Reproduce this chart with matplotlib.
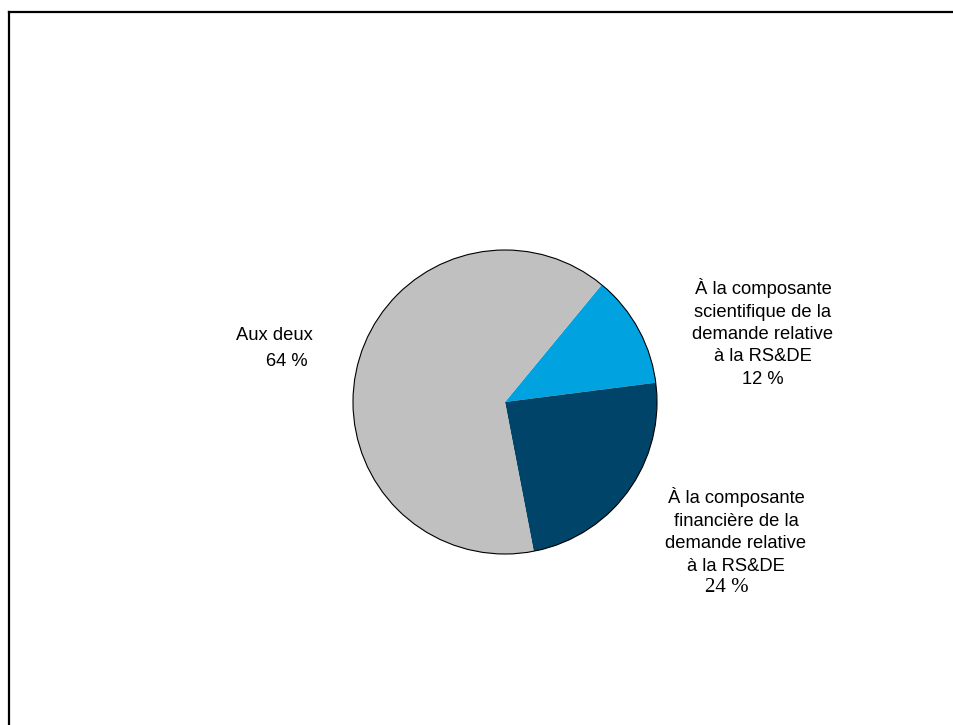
import matplotlib.pyplot as plt
from matplotlib.patches import Circle

# share of applicants by the part of the SR&ED claim they referred to
categories = ["À la composante\nscientifique de la\ndemande relative\nà la RS&DE",
              "À la composante\nfinancière de la\ndemande relative\nà la RS&DE",
              "Aux deux"]
values = [12, 24, 64]
colors = ["#00A3E0", "#00446A", "#C0C0C0"]

W, H = 954, 725
fig = plt.figure(figsize=(W / 100, H / 100), dpi=100)
ax = fig.add_axes([0, 0, 1, 1])

cx, cy, r = 505, H - 402, 152
ax.pie(values, colors=colors, startangle=50.5, counterclock=False,
       center=(cx, cy), radius=r, wedgeprops=dict(linewidth=0), frame=True)
ax.add_patch(Circle((cx, cy), r, fill=False, ec="black", lw=0.8))
ax.set_xlim(0, W)
ax.set_ylim(0, H)
ax.axis("off")
ax.set_aspect("equal")

# frame lines along top and left
ax.plot([9, 9], [0, H - 12], color="black", lw=1.6, solid_capstyle="projecting")
ax.plot([9, W], [H - 12, H - 12], color="black", lw=1.6, solid_capstyle="projecting")

sans = "Liberation Sans"
fs = 13.2
ls = 1.42
ax.text(763, H - 333, f"{categories[0]}\n{values[0]} %", ha="center", va="center",
        multialignment="center", fontsize=fs, family=sans, linespacing=ls)
ax.text(736, H - 531, categories[1], ha="center", va="center",
        multialignment="center", fontsize=fs, family=sans, linespacing=ls)
ax.text(727, H - 587, f"{values[1]} %", ha="center", va="center",
        fontsize=15, family="Liberation Serif")
ax.text(313, H - 335, categories[2], ha="right", va="center", fontsize=fs, family=sans)
ax.text(308, H - 361, f"{values[2]} %", ha="right", va="center", fontsize=fs, family=sans)

fig.savefig("out.png", dpi=100)
